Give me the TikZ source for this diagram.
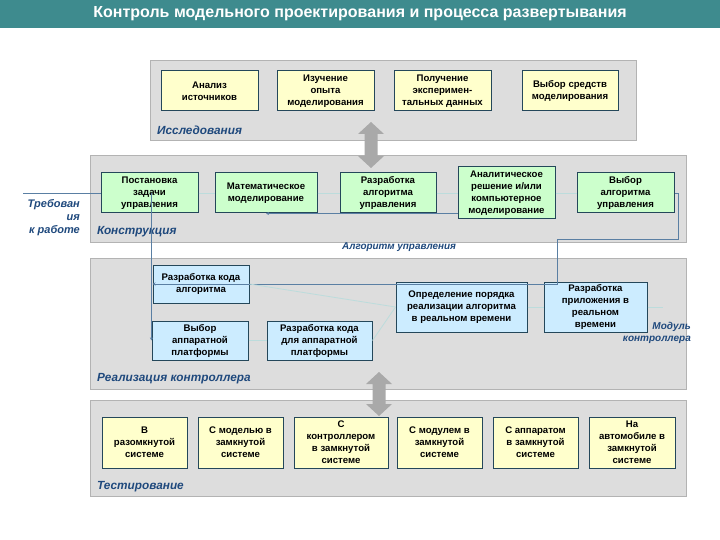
\documentclass[tikz,border=0pt]{standalone}
\usepackage{fontspec}
\setmainfont{Liberation Sans}
\usetikzlibrary{arrows.meta}
\definecolor{titlebg}{HTML}{3E8B8E}
\definecolor{panelfill}{HTML}{DDDDDD}
\definecolor{paneldraw}{HTML}{B3B3B3}
\definecolor{boxdraw}{HTML}{24475A}
\definecolor{yel}{HTML}{FFFFCC}
\definecolor{grn}{HTML}{CCFFCC}
\definecolor{blu}{HTML}{CCECFF}
\definecolor{lbl}{HTML}{1F497D}
\definecolor{connc}{HTML}{5A7FA3}
\definecolor{faintc}{HTML}{BCDCDC}
\definecolor{arrc}{HTML}{A9A9A9}
\tikzset{
  panel/.style={fill=panelfill,draw=paneldraw,line width=0.8pt},
  box/.style={draw=boxdraw,line width=1pt,align=center,inner sep=1pt,
    font=\fontsize{9.6}{12}\selectfont\bfseries},
  ybox/.style={box,fill=yel},
  gbox/.style={box,fill=grn},
  bbox/.style={box,fill=blu},
  plabel/.style={text=lbl,font=\fontsize{11.8}{14}\selectfont\bfseries\itshape,inner sep=0pt},
  conn/.style={draw=connc,line width=0.8pt},
  faint/.style={draw=faintc,line width=0.8pt},
  tip/.style={-{Stealth[length=3pt,width=3pt]}},
  bigarrow/.style={fill=arrc,draw=none}
}
\begin{document}
\begin{tikzpicture}[x=1pt,y=-1pt]
\useasboundingbox (0,0) rectangle (720,540);
\fill[white] (0,0) rectangle (720,540);
% title
\fill[titlebg] (0,0) rectangle (720,28);
\node[text=white,font=\fontsize{16}{18}\selectfont\bfseries] (title) at (360,14) {Контроль модельного проектирования и процесса развертывания};
% panels
\draw[panel] (150,60) rectangle (636,140);
\draw[panel] (90,155) rectangle (686,242);
\draw[panel] (90,258) rectangle (686,389);
\draw[panel] (90,400) rectangle (686,496);
% panel labels
\node[plabel,anchor=west] (l1) at (157,130) {Исследования};
\node[plabel,anchor=west] (l2) at (97,232) {Конструкция};
\node[plabel,anchor=west] (l3) at (97,379) {Реализация контроллера};
\node[plabel,anchor=west] (l4) at (97,487) {Тестирование};
\node[plabel,anchor=west,font=\fontsize{9.9}{11}\selectfont\bfseries\itshape] (l5) at (342,247) {Алгоритм управления};
\node[plabel,anchor=east,align=right,font=\fontsize{10}{12.5}\selectfont\bfseries\itshape] (l6) at (691,333) {Модуль\\контроллера};
\node[plabel,anchor=east,align=right,font=\fontsize{11}{13}\selectfont\bfseries\itshape] (l7) at (80,218) {Требован\\ия\\к работе};
% research boxes
\node[ybox,minimum width=97pt,minimum height=40pt] (a1) at (209.5,91) {Анализ\\источников};
\node[ybox,minimum width=97pt,minimum height=40pt] (a2) at (325.5,91) {Изучение\\опыта\\моделирования};
\node[ybox,minimum width=97pt,minimum height=40pt] (a3) at (442.5,91) {Получение\\эксперимен-\\тальных данных};
\node[ybox,minimum width=96pt,minimum height=40pt] (a4) at (570,91) {Выбор средств\\моделирования};
% construction
\coordinate (req) at (23,193);
\coordinate (c1) at (678,193);
\coordinate (c2) at (678,239);
\coordinate (c3) at (557,239);
\coordinate (c4) at (557,284);
\coordinate (mod) at (663,307);
\node[gbox,minimum width=97pt,minimum height=40pt] (b1) at (149.5,193) {Постановка\\задачи\\управления};
\node[gbox,minimum width=102pt,minimum height=40pt] (b2) at (266,193) {Математическое\\моделирование};
\node[gbox,minimum width=96pt,minimum height=40pt] (b3) at (388,193) {Разработка\\алгоритма\\управления};
\node[gbox,minimum width=97pt,minimum height=52pt] (b4) at (506.5,193) {Аналитическое\\решение и/или\\компьютерное\\моделирование};
\node[gbox,minimum width=97pt,minimum height=40pt] (b5) at (625.5,193) {Выбор\\алгоритма\\управления};
% realization
\node[bbox,minimum width=96pt,minimum height=38pt] (r1) at (201,284) {Разработка кода\\алгоритма};
\node[bbox,minimum width=96pt,minimum height=39pt] (r2) at (200,340.5) {Выбор\\аппаратной\\платформы};
\node[bbox,minimum width=105pt,minimum height=39pt] (r3) at (319.5,340.5) {Разработка кода\\для аппаратной\\платформы};
\node[bbox,minimum width=131pt,minimum height=50pt] (r4) at (461.5,307) {Определение порядка\\реализации алгоритма\\в реальном времени};
\node[bbox,minimum width=103pt,minimum height=50pt] (r5) at (595.5,307) {Разработка\\приложения в\\реальном\\времени};
% testing
\node[ybox,minimum width=85pt,minimum height=51pt] (t1) at (144.5,442.5) {В\\разомкнутой\\системе};
\node[ybox,minimum width=85pt,minimum height=51pt] (t2) at (240.5,442.5) {С моделью в\\замкнутой\\системе};
\node[ybox,minimum width=94pt,minimum height=51pt] (t3) at (341,442.5) {С\\контроллером\\в замкнутой\\системе};
\node[ybox,minimum width=85pt,minimum height=51pt] (t4) at (439.5,442.5) {С модулем в\\замкнутой\\системе};
\node[ybox,minimum width=85pt,minimum height=51pt] (t5) at (535.5,442.5) {С аппаратом\\в замкнутой\\системе};
\node[ybox,minimum width=86pt,minimum height=51pt] (t6) at (632,442.5) {На\\автомобиле в\\замкнутой\\системе};
% connectors
\draw[conn] (req) -- (b1.west);
\draw[faint] (b1.east) -- (b2.west);
\draw[faint] (b2.east) -- (b3.west);
\draw[faint] (b3.east) -- (b4.west);
\draw[faint] (b4.east) -- (b5.west);
\draw[conn,tip] (b3.south -| b4.west) -- (b2.south);
\draw[conn,tip] (r2.west |- b1.center) -- (r2.west);
\draw[conn,tip] (b5.east) -- (c1) -- (c2) -- (c3) -- (c4) -- (r1.west);
\draw[faint] (r2.east) -- (r3.west);
\draw[faint] (r3.east) -- (r4.west);
\draw[faint] (r1.east) -- (r4.west);
\draw[faint] (r4.east) -- (r5.west);
\draw[faint] (r5.east) -- (mod);
% big double arrows
\fill[bigarrow] (371,122) -- (384,134) -- (377.5,134) -- (377.5,156) -- (384,156) -- (371,168) -- (358,156) -- (364.5,156) -- (364.5,134) -- (358,134) -- cycle;
\fill[bigarrow] (379,372) -- (392,384) -- (385.5,384) -- (385.5,404) -- (392,404) -- (379,416) -- (366,404) -- (372.5,404) -- (372.5,384) -- (366,384) -- cycle;
\end{tikzpicture}
\end{document}
